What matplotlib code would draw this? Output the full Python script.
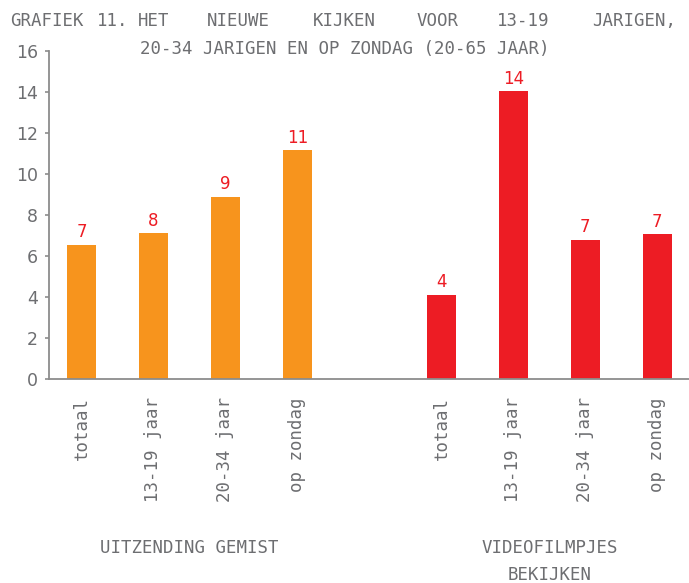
import matplotlib
matplotlib.use("Agg")
import matplotlib.pyplot as plt
from matplotlib.transforms import blended_transform_factory

# --- data ---
categories = ["totaal", "13-19 jaar", "20-34 jaar", "op zondag"]
gemist_values = [6.55, 7.1, 8.9, 11.15]
gemist_labels = ["7", "8", "9", "11"]
video_values = [4.1, 14.05, 6.8, 7.05]
video_labels = ["4", "14", "7", "7"]
group_names = [["UITZENDING GEMIST"], ["VIDEOFILMPJES", "BEKIJKEN"]]
title_words = ["GRAFIEK", "11.", "HET", "NIEUWE", "KIJKEN", "VOOR", "13-19", "JARIGEN,"]
title_line2 = "20-34 JARIGEN EN OP ZONDAG (20-65 JAAR)"

# --- stijl ---
ORANGE = "#f7941d"
RED = "#ed1c24"
GRAY = "#6d6e71"
AXGRAY = "#8c8c8c"
MONO = "DejaVu Sans Mono"

fig = plt.figure(figsize=(6.89, 5.83), dpi=100)
ax = fig.add_axes([49 / 689, 1 - 379 / 583, 640 / 689, 328 / 583])

x_gemist = [0, 1, 2, 3]
x_video = [5, 6, 7, 8]
bars1 = ax.bar(x_gemist, gemist_values, width=0.4, color=ORANGE, zorder=2)
bars2 = ax.bar(x_video, video_values, width=0.4, color=RED, zorder=2)

for bars, labels in [(bars1, gemist_labels), (bars2, video_labels)]:
    for b, lab in zip(bars, labels):
        ax.annotate(lab, (b.get_x() + b.get_width() / 2, b.get_height()),
                    xytext=(0, 2.5), textcoords="offset points",
                    ha="center", va="bottom", color=RED, fontsize=12,
                    family="DejaVu Sans")

ax.set_xlim(-0.451, 8.44)
ax.set_ylim(0, 16)
ax.set_yticks(range(0, 17, 2))
ax.set_xticks(x_gemist + x_video)
ax.set_xticklabels(categories + categories, rotation=90, family=MONO,
                   fontsize=12.5, color=GRAY, va="top", ha="center")
ax.tick_params(axis="x", length=0, pad=13)
ax.tick_params(axis="y", length=3, width=1.2, color=AXGRAY, pad=5,
               labelsize=12.5, labelcolor=GRAY)
for lab in ax.get_yticklabels():
    lab.set_family("DejaVu Sans")

for s in ["top", "right"]:
    ax.spines[s].set_visible(False)
for s in ["left", "bottom"]:
    ax.spines[s].set_color(AXGRAY)
    ax.spines[s].set_linewidth(1.3)

# groepslabels onder de as (x in data, y in figuurpixels)
trans = blended_transform_factory(ax.transData, fig.transFigure)
centers = [sum(x_gemist) / 4, sum(x_video) / 4]
for c, lines in zip(centers, group_names):
    for k, line in enumerate(lines):
        ax.text(c, 1 - (548 + 27 * k) / 583, line, transform=trans,
                ha="center", va="center", family=MONO, fontsize=12.5,
                color=GRAY)

# titel, eerste regel woord voor woord uitgevuld
word_x = [10, 97, 138, 207, 313, 417, 497, 592]
for w, px in zip(title_words, word_x):
    fig.text(px / 689, 1 - 21 / 583, w, ha="left", va="center", family=MONO,
             fontsize=12.5, color=GRAY)
fig.text(345 / 689, 1 - 49 / 583, title_line2, ha="center", va="center",
         family=MONO, fontsize=12.5, color=GRAY)

fig.savefig("out.png", dpi=100)
